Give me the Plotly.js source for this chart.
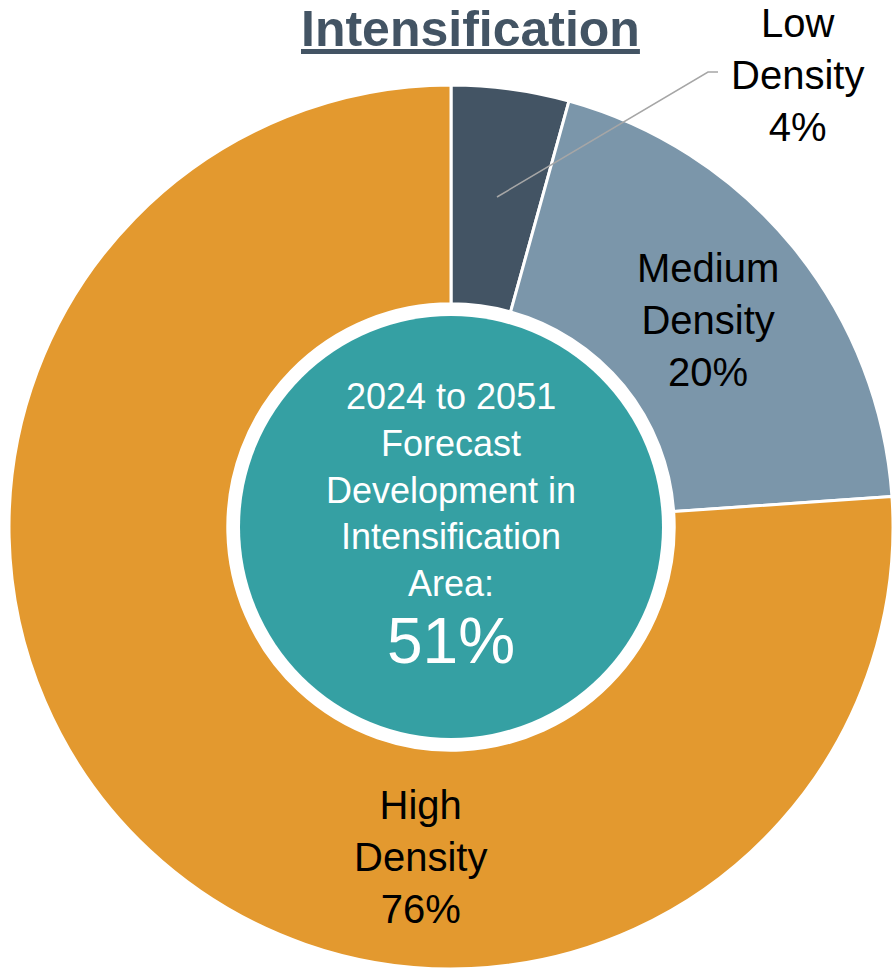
<!DOCTYPE html>
<html>
<head>
<meta charset="utf-8">
<script src="https://cdn.plot.ly/plotly-3.0.1.min.js"></script>
<style>html,body{margin:0;padding:0;background:#fff;}#chart{width:894px;height:969px;}</style>
</head>
<body>
<div id="chart"></div>
<script>
// Data
const categories = ['Low Density', 'Medium Density', 'High Density'];
const shares = [4.3, 19.6, 76.1];
const shareLabels = ['4%', '20%', '76%'];
const centerText = ['2024 to 2051', 'Forecast', 'Development in', 'Intensification', 'Area:'];
const centerValue = '51%';
const chartTitle = 'Intensification';

// Styles
const W = 894, H = 969;
const colors = ['#435464', '#7B96AA', '#E3992F'];
const teal = '#35A0A3';
const font = 'Liberation Sans, Arial, sans-serif';
const px = x => x / W;
const py = y => 1 - y / H;

const cx = 451, cy = 527, R = 442;

const trace = {
  type: 'pie',
  values: shares,
  labels: categories,
  sort: false,
  direction: 'clockwise',
  rotation: 0,
  hole: 0.505,
  textinfo: 'none',
  hoverinfo: 'label+percent',
  marker: {colors: colors, line: {color: '#ffffff', width: 3}},
  domain: {x: [px(cx - R), px(cx + R)], y: [py(cy + R), py(cy - R)]}
};

const labelPos = [[797, 75], [708, 320], [420, 857]];
const annotations = categories.map((c, i) => ({
  xref: 'paper', yref: 'paper',
  x: px(labelPos[i][0]), y: py(labelPos[i][1]),
  xanchor: 'center', yanchor: 'middle',
  showarrow: false,
  text: c.replace(' ', '<br>') + '<br>' + shareLabels[i],
  font: {family: font, size: 40, color: '#000000'}
}));

annotations.push({
  xref: 'paper', yref: 'paper', x: px(cx), y: py(490),
  xanchor: 'center', yanchor: 'middle', showarrow: false,
  text: centerText.join('<br>'),
  font: {family: font, size: 36, color: '#ffffff'}
});
annotations.push({
  xref: 'paper', yref: 'paper', x: px(cx), y: py(641),
  xanchor: 'center', yanchor: 'middle', showarrow: false,
  text: centerValue,
  font: {family: font, size: 64, color: '#ffffff'}
});
annotations.push({
  xref: 'paper', yref: 'paper', x: px(471), y: py(29),
  xanchor: 'center', yanchor: 'middle', showarrow: false,
  text: '<b><u>' + chartTitle + '</u></b>',
  font: {family: font, size: 50, color: '#435464'}
});

const rTeal = 211;
const shapes = [
  {type: 'circle', xref: 'paper', yref: 'paper',
   x0: px(cx - rTeal), x1: px(cx + rTeal), y0: py(cy + rTeal), y1: py(cy - rTeal),
   fillcolor: teal, line: {width: 0}},
  {type: 'path', xref: 'paper', yref: 'paper',
   path: 'M ' + px(497) + ',' + py(197) + ' L ' + px(708) + ',' + py(72) + ' L ' + px(718) + ',' + py(72),
   line: {color: '#A6A6A6', width: 1.5}}
];

const layout = {
  width: W, height: H,
  margin: {l: 0, r: 0, t: 0, b: 0},
  paper_bgcolor: '#ffffff', plot_bgcolor: '#ffffff',
  showlegend: false,
  annotations: annotations,
  shapes: shapes
};

Plotly.newPlot('chart', [trace], layout, {displayModeBar: false, staticPlot: true});
</script>
</body>
</html>
